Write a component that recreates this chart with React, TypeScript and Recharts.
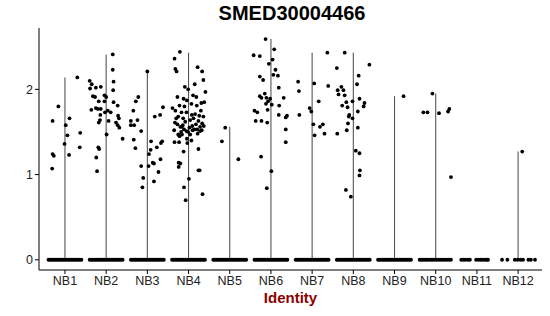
import React from 'react';
import { ScatterChart, Scatter, XAxis, YAxis } from 'recharts';

// cell identities on the x axis
const CATEGORIES = ['NB1', 'NB2', 'NB3', 'NB4', 'NB5', 'NB6', 'NB7', 'NB8', 'NB9', 'NB10', 'NB11', 'NB12'];

// top of each (collapsed) violin
const VIOLIN_MAX = [2.14, 2.41, 2.21, 2.43, 1.56, 2.59, 2.43, 2.43, 1.92, 1.95, 0, 1.27];

// non-zero expression values as [jitter, value]
const NB1_POINTS: [number, number][] = [
  [-0.3, 1.63], [-0.16, 1.8], [-0.3, 1.24], [-0.27, 1.22], [-0.31, 1.07], [0.02, 1.58], [0.06, 1.46],
  [-0.01, 1.36], [0.11, 1.66], [0.1, 1.23], [0.3, 2.14], [0.37, 1.49], [0.36, 1.32],
];
const NB2_POINTS: [number, number][] = [
  [0.16, 2.41], [0.16, 2.23], [0.18, 2.09], [0.17, 1.99], [-0.4, 2.1], [-0.35, 2.06], [-0.39, 2.01],
  [-0.25, 2.02], [-0.13, 2.03], [-0.32, 1.92], [-0.27, 1.91], [-0.04, 1.93], [0.0, 1.91], [0.18, 1.85],
  [0.28, 1.81], [-0.18, 1.86], [-0.04, 1.86], [-0.36, 1.76], [-0.25, 1.78], [-0.2, 1.77], [-0.13, 1.77],
  [0.04, 1.75], [0.11, 1.73], [-0.14, 1.7], [-0.03, 1.73], [0.29, 1.69], [0.31, 1.66], [-0.15, 1.64],
  [-0.18, 1.61], [0.06, 1.63], [0.24, 1.61], [0.28, 1.58], [0.32, 1.55], [0.4, 1.42], [0.01, 1.47],
  [-0.19, 1.32], [-0.17, 1.3], [-0.24, 1.2], [-0.22, 1.04],
];
const NB3_POINTS: [number, number][] = [
  [0.0, 2.21], [-0.22, 1.91], [-0.28, 1.86], [-0.34, 1.75], [-0.4, 1.63], [-0.32, 1.58], [-0.4, 1.58],
  [-0.24, 1.64], [-0.15, 1.51], [-0.33, 1.41], [-0.29, 1.31], [-0.15, 1.1], [-0.1, 0.96], [-0.12, 0.85],
  [0.38, 1.79], [0.31, 1.7], [0.18, 1.68], [0.09, 1.39], [0.36, 1.39], [0.33, 1.37], [0.23, 1.32],
  [0.08, 1.29], [0.04, 1.24], [0.32, 1.18], [0.03, 1.1], [0.13, 1.14], [0.16, 1.13], [0.27, 1.03],
  [0.16, 0.92],
];
const NB4_POINTS: [number, number][] = [
  [-0.21, 2.44], [-0.34, 2.36], [-0.32, 2.24], [-0.29, 2.21], [0.22, 2.26], [0.33, 2.21], [0.36, 2.11],
  [0.15, 2.06], [-0.09, 2.03], [-0.01, 2.0], [-0.27, 1.91], [0.41, 1.97], [0.11, 1.93], [0.19, 1.91],
  [0.38, 1.85], [0.31, 1.84], [-0.12, 1.89], [-0.04, 1.87], [0.2, 1.81], [0.07, 1.83], [-0.39, 1.78],
  [-0.32, 1.75], [-0.22, 1.81], [-0.17, 1.73], [-0.25, 1.68], [-0.13, 1.66], [0.3, 1.75], [0.26, 1.69],
  [0.16, 1.71], [0.36, 1.68], [-0.05, 1.73], [0.04, 1.64], [-0.33, 1.61], [-0.27, 1.59], [-0.2, 1.56],
  [-0.16, 1.56], [-0.11, 1.53], [-0.05, 1.51], [-0.01, 1.5], [-0.35, 1.52], [-0.25, 1.47], [0.14, 1.53],
  [0.21, 1.53], [0.28, 1.51], [0.32, 1.52], [0.37, 1.57], [0.18, 1.59], [0.09, 1.57], [0.24, 1.63],
  [0.04, 1.47], [-0.04, 1.42], [-0.22, 1.45], [-0.16, 1.47], [-0.34, 1.38], [-0.23, 1.38], [-0.03, 1.37],
  [0.07, 1.4], [0.24, 1.3], [-0.12, 1.27], [-0.24, 1.14], [-0.2, 1.13], [-0.24, 1.09], [0.24, 1.05],
  [0.27, 1.05], [0.01, 0.95], [-0.11, 0.85], [0.34, 0.77], [-0.07, 0.7], [0.08, 1.7], [-0.08, 1.62],
  [0.12, 1.66], [-0.14, 1.58], [0.02, 1.55], [0.22, 1.48], [-0.3, 1.66], [0.28, 1.56], [-0.1, 1.8],
  [0.1, 1.52], [-0.18, 1.5], [0.33, 1.6],
];
const NB5_POINTS: [number, number][] = [[-0.11, 1.55], [-0.19, 1.39], [0.21, 1.18]];
const NB6_POINTS: [number, number][] = [
  [-0.13, 2.59], [0.08, 2.47], [-0.42, 2.4], [-0.27, 2.39], [0.04, 2.35], [-0.05, 2.3], [0.11, 2.23],
  [0.17, 2.16], [0.06, 2.17], [-0.27, 2.15], [-0.19, 2.11], [0.19, 2.02], [-0.15, 1.95], [-0.27, 1.92],
  [-0.23, 1.9], [-0.11, 1.9], [-0.07, 1.86], [-0.02, 1.89], [0.31, 1.9], [-0.12, 1.83], [0.02, 1.82],
  [0.2, 1.81], [-0.08, 1.76], [-0.4, 1.75], [-0.33, 1.73], [0.19, 1.7], [0.39, 1.69], [0.36, 1.67],
  [-0.37, 1.63], [-0.23, 1.63], [-0.09, 1.61], [0.36, 1.53], [0.36, 1.38], [-0.24, 1.21], [0.01, 1.04],
  [-0.1, 0.84],
];
const NB7_POINTS: [number, number][] = [
  [0.37, 2.43], [-0.34, 2.09], [-0.32, 1.98], [0.05, 2.07], [0.39, 2.04], [0.16, 1.86], [-0.06, 1.78],
  [-0.02, 1.74], [-0.31, 1.7], [0.03, 1.59], [0.26, 1.59], [0.19, 1.56], [0.06, 1.46], [0.3, 1.48],
];
const NB8_POINTS: [number, number][] = [
  [-0.21, 2.43], [0.39, 2.29], [-0.4, 2.25], [0.13, 2.16], [0.09, 2.06], [-0.38, 1.99], [-0.29, 2.03],
  [-0.24, 1.99], [-0.36, 1.94], [-0.21, 1.93], [0.15, 1.89], [-0.02, 1.86], [-0.17, 1.85], [-0.27, 1.81],
  [0.27, 1.84], [0.25, 1.8], [-0.14, 1.79], [0.11, 1.74], [-0.1, 1.7], [-0.11, 1.68], [-0.02, 1.66],
  [-0.13, 1.6], [0.11, 1.55], [-0.16, 1.52], [-0.39, 1.48], [0.06, 1.28], [0.15, 1.25], [0.16, 1.05],
  [0.15, 0.99], [-0.18, 0.82], [-0.06, 0.74],
];
const NB9_POINTS: [number, number][] = [[0.22, 1.92]];
const NB10_POINTS: [number, number][] = [
  [-0.08, 1.95], [-0.3, 1.73], [-0.2, 1.73], [0.08, 1.72], [0.3, 1.74], [0.33, 1.77], [0.37, 0.97],
];
const NB11_POINTS: [number, number][] = [];
const NB12_POINTS: [number, number][] = [[0.1, 1.27]];

// jitter of the cells with zero expression
const DENSE_ZERO_JITTER = [
  -0.4, -0.36, -0.32, -0.28, -0.24, -0.2, -0.16, -0.12, -0.08, -0.04, 0, 0.04, 0.08, 0.12, 0.16, 0.2,
  0.24, 0.28, 0.32, 0.36, 0.4,
];
const NB10_ZERO_JITTER = [
  -0.39, -0.35, -0.31, -0.26, -0.22, -0.17, -0.12, -0.08, -0.03, 0.02, 0.07, 0.12, 0.17, 0.22, 0.27,
  0.32, 0.37,
];
const NB11_ZERO_JITTER = [-0.38, -0.33, -0.28, -0.22, -0.17, -0.02, 0.04, 0.09, 0.14, 0.19, 0.24, 0.27];
const NB12_ZERO_JITTER = [-0.39, -0.26, -0.08, -0.01, 0.06, 0.12, 0.25, 0.31, 0.41];

const Y_TICKS = [0, 1, 2];

const POINTS_BY_CATEGORY = [
  NB1_POINTS, NB2_POINTS, NB3_POINTS, NB4_POINTS, NB5_POINTS, NB6_POINTS,
  NB7_POINTS, NB8_POINTS, NB9_POINTS, NB10_POINTS, NB11_POINTS, NB12_POINTS,
];
const ZEROS_BY_CATEGORY = [
  DENSE_ZERO_JITTER, DENSE_ZERO_JITTER, DENSE_ZERO_JITTER, DENSE_ZERO_JITTER, DENSE_ZERO_JITTER,
  DENSE_ZERO_JITTER, DENSE_ZERO_JITTER, DENSE_ZERO_JITTER, DENSE_ZERO_JITTER,
  NB10_ZERO_JITTER, NB11_ZERO_JITTER, NB12_ZERO_JITTER,
];

const FONT = '"Liberation Sans", Arial, sans-serif';

const cellData = CATEGORIES.flatMap((_, i) => [
  ...ZEROS_BY_CATEGORY[i].map(dx => ({ x: i + 1 + dx, y: 0 })),
  ...POINTS_BY_CATEGORY[i].map(([dx, v]) => ({ x: i + 1 + dx, y: v })),
]);

const Dot = (props: any) => <circle cx={props.cx} cy={props.cy} r={1.9} fill="#000" />;
const NoDot = () => <g />;

const App: React.FC = () => {
  return (
    <div style={{ position: 'absolute', left: 0, top: 0, width: 550, height: 316, background: '#fff', fontFamily: FONT }}>
      <div
        style={{
          position: 'absolute', left: 40, width: 504, top: 2, textAlign: 'center',
          fontSize: 20, fontWeight: 'bold', color: '#000',
        }}
      >
        SMED30004466
      </div>
      <ScatterChart width={550} height={316} margin={{ top: 28, right: 8, bottom: 0, left: 9 }}>
        <XAxis
          type="number"
          dataKey="x"
          domain={[0.37, 12.58]}
          ticks={CATEGORIES.map((_, i) => i + 1)}
          tickFormatter={(v: number) => CATEGORIES[Math.round(v) - 1]}
          interval={0}
          allowDataOverflow
          height={46}
          stroke="#000"
          tickSize={4}
          tickMargin={2}
          tick={{ fill: '#222', fontSize: 12.5, fontFamily: FONT }}
        />
        <YAxis
          type="number"
          dataKey="y"
          domain={[-0.12, 2.72]}
          ticks={Y_TICKS}
          allowDataOverflow
          width={30}
          stroke="#000"
          tickSize={4}
          tickMargin={2}
          tick={{ fill: '#222', fontSize: 12.5, fontFamily: FONT }}
        />
        {CATEGORIES.map((c, i) =>
          VIOLIN_MAX[i] > 0 ? (
            <Scatter
              key={c}
              data={[{ x: i + 1, y: 0 }, { x: i + 1, y: VIOLIN_MAX[i] }]}
              line={{ stroke: '#555', strokeWidth: 1.1 }}
              shape={NoDot}
              isAnimationActive={false}
            />
          ) : null
        )}
        <Scatter data={cellData} shape={Dot} isAnimationActive={false} />
      </ScatterChart>
      <div
        style={{
          position: 'absolute', left: 39, width: 503, top: 289, textAlign: 'center',
          fontSize: 15, fontWeight: 'bold', color: '#8b0000',
        }}
      >
        Identity
      </div>
    </div>
  );
};

export default App;
